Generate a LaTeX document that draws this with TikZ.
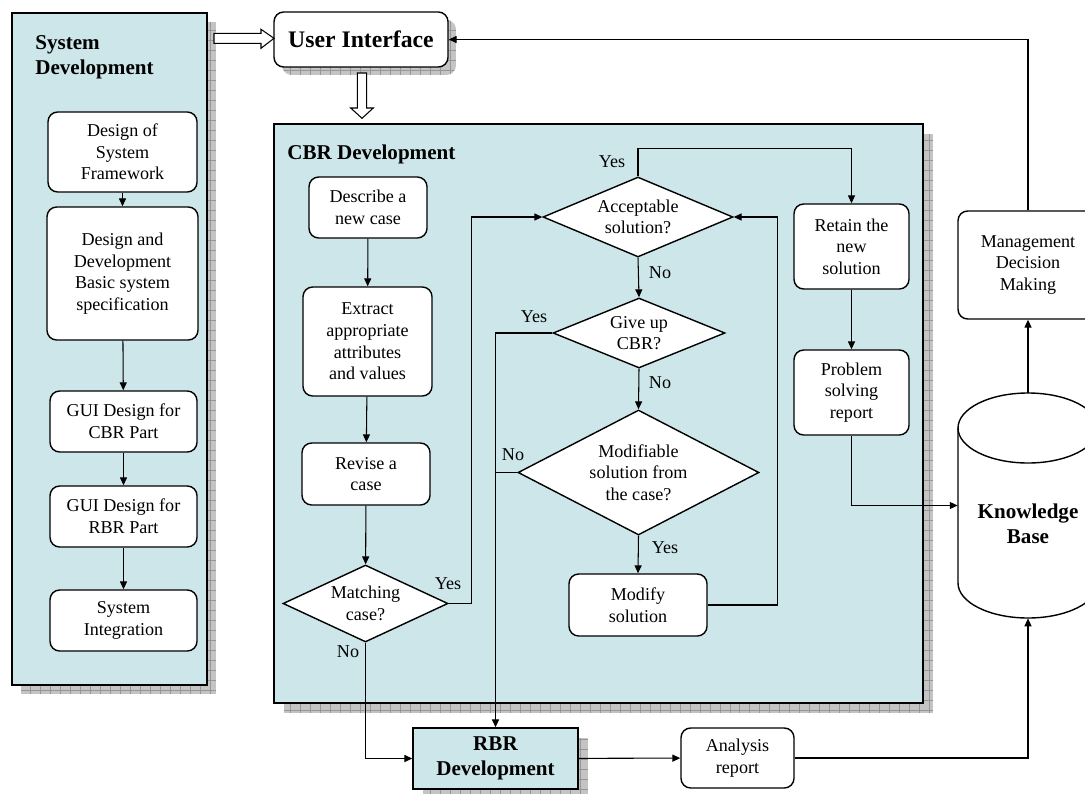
\documentclass[tikz,border=0pt]{standalone}
\usepackage{fontspec}
\setmainfont{Liberation Serif}
\usetikzlibrary{shapes.geometric,arrows.meta}
\definecolor{panelblue}{RGB}{205,230,233}
\definecolor{shadowfill}{RGB}{196,196,196}
\definecolor{shadowline}{RGB}{150,150,150}
\newcommand\nf{\fontsize{10.3}{12.3}\selectfont}
\newcommand\bfnf{\fontsize{12}{14.2}\selectfont\bfseries}
\newcommand\dropshadow[5]{%
  \begin{scope}
    \path[clip, rounded corners=#5] (#1,#2) rectangle (#3,#4);
    \fill[shadowfill] (#1,#2) rectangle (#3,#4);
    \draw[shadowline, line width=0.4pt, step=0.2cm] (#1,#2) grid (#3,#4);
  \end{scope}}
\begin{document}
\begin{tikzpicture}[x=0.02cm,y=-0.02cm,
  sz/.style 2 args={minimum width=#1*0.02cm, minimum height=#2*0.02cm},
  box/.style={draw, rounded corners=5.5pt, fill=white, line width=0.8pt, align=center, inner sep=0pt, font=\nf},
  dia/.style={diamond, draw, fill=white, line width=0.8pt, align=center, inner sep=0pt, font=\nf},
  panel/.style={draw, fill=panelblue, line width=0.8pt, inner sep=0pt},
  arr/.style={line width=0.6pt, -{Triangle[length=4.5pt,width=4pt]}},
  ln/.style={line width=0.6pt},
  lbl/.style={font=\nf, inner sep=0pt},
  fat/.style={draw, fill=white, line width=0.6pt}]
\useasboundingbox (0,0) rectangle (1085,794);
\clip (0,0) rectangle (1085,794);

% panels and shadows
\dropshadow{21}{22}{216}{694}{0pt}
\node[panel, sz={195}{672}] (sdp) at (109.5,349) {};
\dropshadow{284}{134}{933}{713}{0pt}
\node[panel, sz={649}{579}] (cbrp) at (598.5,413.5) {};
\dropshadow{282}{20}{456}{75}{5.5pt}
\node[box, font=\fontsize{13.5}{16}\selectfont\bfseries, sz={174}{55}] (ui) at (361,39.5) {User Interface};
\dropshadow{423}{738}{588}{799}{0pt}
\node[panel, font=\bfnf, align=center, sz={165}{61}] (rbr) at (495.5,758.5) {RBR\\Development};

% titles
\node[font=\bfnf, align=left, anchor=north west, inner sep=0pt] (sdt) at (35,35) {System\\Development};
\node[font=\bfnf, anchor=base west, inner sep=0pt] (cbrt) at (287,159) {CBR Development};

% fat arrows
\draw[fat] (214,33.3) -- (261,33.3) -- (261,29.3) -- (274,38.3) -- (261,48.3) -- (261,43.3) -- (214,43.3) -- cycle;
\draw[fat] (357.3,73) -- (357.3,108) -- (350.7,108) -- (362,118.3) -- (373.3,108) -- (366.7,108) -- (366.7,73) -- cycle;

% system development boxes
\node[box, sz={149}{80}] (sd1) at (122.5,152) {Design of\\System\\Framework};
\node[box, sz={151}{133}] (sd2) at (122.5,273.5) {Design and\\Development\\Basic system\\specification};
\node[box, sz={147}{61}] (sd3) at (123.5,421.5) {GUI Design for\\CBR Part};
\node[box, sz={147}{61}] (sd4) at (123.5,516.5) {GUI Design for\\RBR Part};
\node[box, sz={147}{61}] (sd5) at (123.5,620.5) {System\\Integration};

% CBR nodes
\node[box, sz={118}{61}] (desc) at (368,207.5) {Describe a\\new case};
\node[box, sz={129}{109}] (extr) at (367.5,341.5) {Extract\\appropriate\\attributes\\and values};
\node[box, sz={128}{62}] (rev) at (366,474) {Revise a\\case};
\node[dia, sz={165}{77}, aspect=2.14] (match) at (365.5,603.5) {Matching\\case?};
\node[dia, sz={190}{80}, aspect=2.375] (acc) at (638,217) {Acceptable\\solution?};
\node[dia, sz={172}{70}, aspect=2.46] (giveup) at (639,333) {Give up\\CBR?};
\node[dia, sz={241}{125}, aspect=1.93] (modif) at (638.5,472.5) {Modifiable\\solution from\\the case?};
\node[box, sz={138}{62}] (mod) at (638,605) {Modify\\solution};
\node[box, sz={115}{85}] (ret) at (851.5,246.5) {Retain the\\new\\solution};
\node[box, sz={115}{85}] (prob) at (851.5,392.5) {Problem\\solving\\report};

% right side
\node[box, sz={140}{108}] (mdm) at (1028,265) {Management\\Decision\\Making};
\node[box, sz={113}{60}] (ana) at (737.5,758) {Analysis\\report};
\node[sz={140}{225}, inner sep=0pt] (kb) at (1028,505.5) {};
\draw[line width=0.8pt, fill=white] (958,428) -- (958,583) arc[start angle=180, end angle=0, x radius=70, y radius=35] -- (1098,428) arc[start angle=0, end angle=-180, x radius=70, y radius=35] -- cycle;
\draw[line width=0.8pt] (958,428) arc[start angle=180, end angle=0, x radius=70, y radius=35];
\node[font=\bfnf, align=center, inner sep=0pt] (kbt) at (1028,524) {Knowledge\\Base};

% connectors: system development
\draw[arr] (sd1) -- (sd2);
\draw[arr] (sd2) -- (sd3);
\draw[arr] (sd3) -- (sd4);
\draw[arr] (sd4) -- (sd5);

% connectors: CBR
\draw[arr] (desc) -- (extr);
\draw[arr] (extr) -- (rev);
\draw[arr] (rev) -- (match);
\draw[arr] (match.east) -- ++(23,0) |- (acc.west);
\node[lbl] at (448,584) {Yes};
\draw[arr] (acc.north) -- ++(0,-28) -| (ret.north);
\node[lbl] at (612,162) {Yes};
\draw[arr] (acc.south) -- (giveup.north);
\node[lbl] at (660,273) {No};
\draw[arr] (giveup.west) -| (rbr.north);
\node[lbl] at (534,317) {Yes};
\draw[arr] (giveup.south) -- (modif.north);
\node[lbl] at (660,383) {No};
\draw[ln] (modif.west) -- (modif.west -| rbr.north);
\node[lbl] at (513,455) {No};
\draw[arr] (modif.south) -- (mod.north);
\node[lbl] at (665,548) {Yes};
\draw[arr] (mod.east) -- ++(70,0) |- (acc.east);
\draw[arr] (ret) -- (prob);
\draw[arr] (prob.south) |- (kb.west);
\draw[arr] (match.south) |- (rbr.west);
\node[lbl] at (348,652) {No};
\draw[arr] (rbr) -- (ana);
\draw[arr] (ana.east) -| (kb.south);
\draw[arr] (kb.north) -- (mdm.south);
\draw[arr] (mdm.north) |- (ui.east);
\end{tikzpicture}
\end{document}
